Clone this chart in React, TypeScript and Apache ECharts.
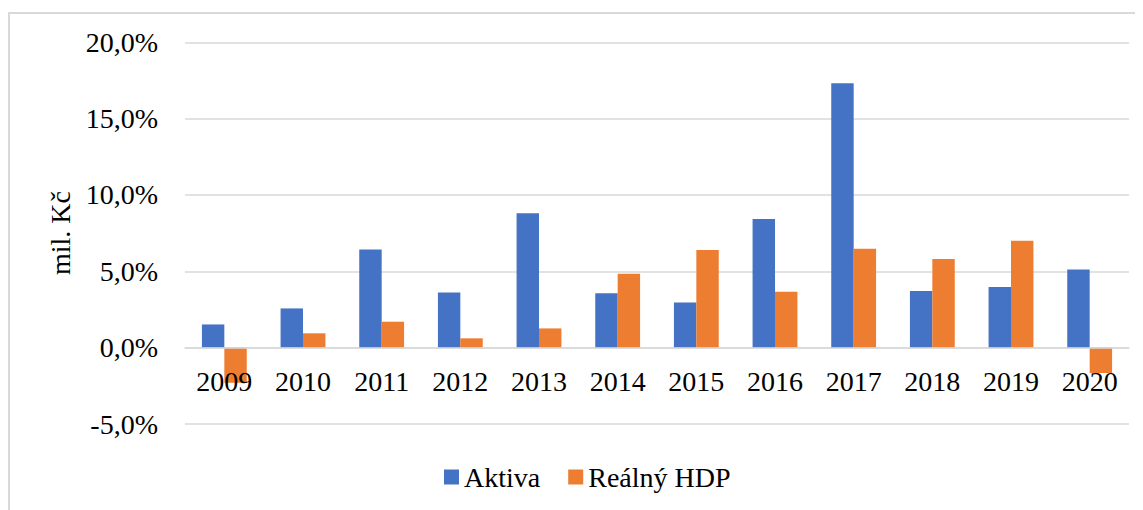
import React, { useEffect, useRef } from "react";
import * as echarts from "echarts";

const years = ["2009", "2010", "2011", "2012", "2013", "2014", "2015", "2016", "2017", "2018", "2019", "2020"];
const aktiva = [1.52, 2.57, 6.43, 3.62, 8.81, 3.57, 2.96, 8.42, 17.32, 3.71, 3.97, 5.12];
const realnyHdp = [-2.3, 0.94, 1.7, 0.61, 1.26, 4.84, 6.39, 3.66, 6.48, 5.8, 7.0, -1.66];
const seriesNames = ["Aktiva", "Reálný HDP"];
const yAxisTitle = "mil. Kč";
const yMin = -5;
const yMax = 20;

const FONT = "Liberation Serif";

export default function App() {
  const ref = useRef<HTMLDivElement>(null);
  useEffect(() => {
    if (!ref.current) return;
    const chart = echarts.init(ref.current, undefined, { renderer: "svg" });
    const gridTop = 34.3;
    const gridBottom = 86;
    const plotH = 502 - gridTop - gridBottom;
    const zeroOffset = -(plotH * (0 - yMin)) / (yMax - yMin);
    chart.setOption({
      animation: false,
      backgroundColor: "#ffffff",
      grid: { left: 177, right: 14, top: gridTop, bottom: gridBottom, containLabel: false },
      legend: {
        data: seriesNames,
        left: 431,
        top: 450,
        icon: "rect",
        itemWidth: 15,
        itemHeight: 15,
        itemGap: 28,
        itemStyle: { borderWidth: 0 },
        textStyle: { fontFamily: FONT, fontSize: 28, color: "#000" },
      },
      xAxis: {
        type: "category",
        data: years,
        position: "bottom",
        offset: zeroOffset,
        z: 3,
        axisLine: { onZero: false, lineStyle: { color: "#d9d9d9", width: 1.5 } },
        axisTick: { show: false },
        axisLabel: { fontFamily: FONT, fontSize: 28, color: "#000", margin: 20 },
      },
      yAxis: {
        type: "value",
        min: yMin,
        max: yMax,
        interval: 5,
        axisLine: { show: false },
        axisTick: { show: false },
        splitLine: { lineStyle: { color: "#d9d9d9", width: 1.5 } },
        axisLabel: {
          fontFamily: FONT,
          fontSize: 28,
          color: "#000",
          margin: 27,
          formatter: (v: number) => v.toFixed(1).replace(".", ",") + "%",
        },
      },
      graphic: [
        {
          type: "polyline",
          shape: { points: [[1, 510], [1, 5], [1140, 5]] },
          style: { stroke: "#d9d9d9", lineWidth: 2, fill: "none" },
          silent: true,
        },
        {
          type: "text",
          x: 52,
          y: 225,
          rotation: Math.PI / 2,
          style: {
            text: yAxisTitle,
            fontFamily: FONT,
            fontSize: 28,
            fill: "#000",
            textAlign: "center",
            textVerticalAlign: "middle",
          },
        },
      ],
      series: [
        {
          name: seriesNames[0],
          type: "bar",
          data: aktiva,
          itemStyle: { color: "#4472C4" },
          barGap: "0%",
          barCategoryGap: "43%",
        },
        {
          name: seriesNames[1],
          type: "bar",
          data: realnyHdp,
          itemStyle: { color: "#ED7D31" },
          barGap: "0%",
          barCategoryGap: "43%",
        },
      ],
    });
    return () => chart.dispose();
  }, []);
  return <div ref={ref} style={{ width: 1135, height: 502 }} />;
}
